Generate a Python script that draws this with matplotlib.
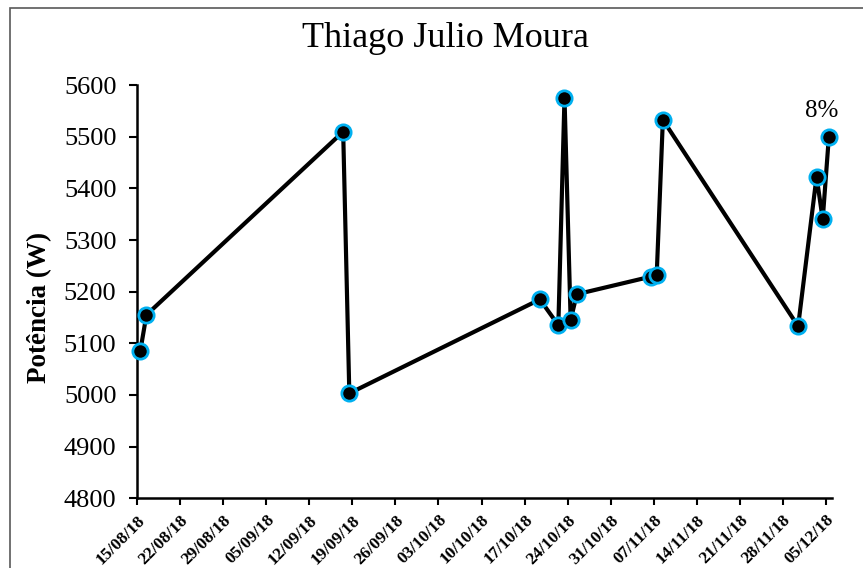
# importing libraries
import pandas as pd
import matplotlib.pyplot as plt
import matplotlib.dates as mdates
from matplotlib.patches import Rectangle

# data
datas = ["15/08/18", "16/08/18", "17/09/18", "18/09/18", "19/10/18", "22/10/18",
         "23/10/18", "24/10/18", "25/10/18", "06/11/18", "07/11/18", "08/11/18",
         "30/11/18", "03/12/18", "04/12/18", "05/12/18"]
potencia = [5085, 5155, 5510, 5003, 5185, 5135, 5576, 5145, 5195, 5229, 5233,
            5533, 5133, 5423, 5340, 5500]
rotulo = "8%"
titulo = "Thiago Julio Moura"

plt.rcParams['font.family'] = ['Liberation Serif', 'DejaVu Serif']

x = pd.to_datetime(datas, format="%d/%m/%y") + pd.Timedelta(hours=12)

fig = plt.figure(figsize=(8.63, 5.68), dpi=100)
ax = fig.add_axes([0.159, 0.123, 0.805, 0.727])

# frame around the chart
fig.patches.append(Rectangle((10 / 863, -0.5), 2, 1.5 - 8 / 568, transform=fig.transFigure,
                             fill=False, edgecolor="#595959", linewidth=1.2))

ax.plot(x, potencia, color="black", linewidth=3, marker="o", markersize=11,
        markerfacecolor="black", markeredgecolor="#00B0F0", markeredgewidth=2,
        zorder=3, clip_on=False)
ax.annotate(rotulo, (x[-1], potencia[-1]), xytext=(-5, 11), textcoords="offset points",
            ha="center", va="bottom", fontsize=18)

# axes
ax.set_ylim(4800, 5600)
ax.set_yticks(range(4800, 5601, 100))
ax.set_xlim(pd.Timestamp("2018-08-15"), pd.Timestamp("2018-12-06"))
ticks = pd.date_range("2018-08-15", "2018-12-05", freq="7D")
ax.set_xticks(ticks)
ax.xaxis.set_major_formatter(mdates.DateFormatter("%d/%m/%y"))
for lab in ax.get_xticklabels():
    lab.set_rotation(45)
    lab.set_ha("right")
    lab.set_rotation_mode("anchor")
    lab.set_fontweight("bold")
    lab.set_fontsize(12.5)

ax.tick_params(axis="y", labelsize=19, length=6, width=1.5, pad=9)
ax.tick_params(axis="x", length=5, width=1.5, pad=5)
ax.spines["top"].set_visible(False)
ax.spines["right"].set_visible(False)
ax.spines["left"].set_linewidth(1.8)
ax.spines["bottom"].set_linewidth(1.8)

ax.set_ylabel("Potência (W)", fontsize=19.5, fontweight="bold", va="center")
ax.yaxis.set_label_coords(-0.141, 0.462)
fig.text(0.516, 0.933, titulo, ha="center", va="center", fontsize=26)

fig.savefig("out.png", dpi=100)
